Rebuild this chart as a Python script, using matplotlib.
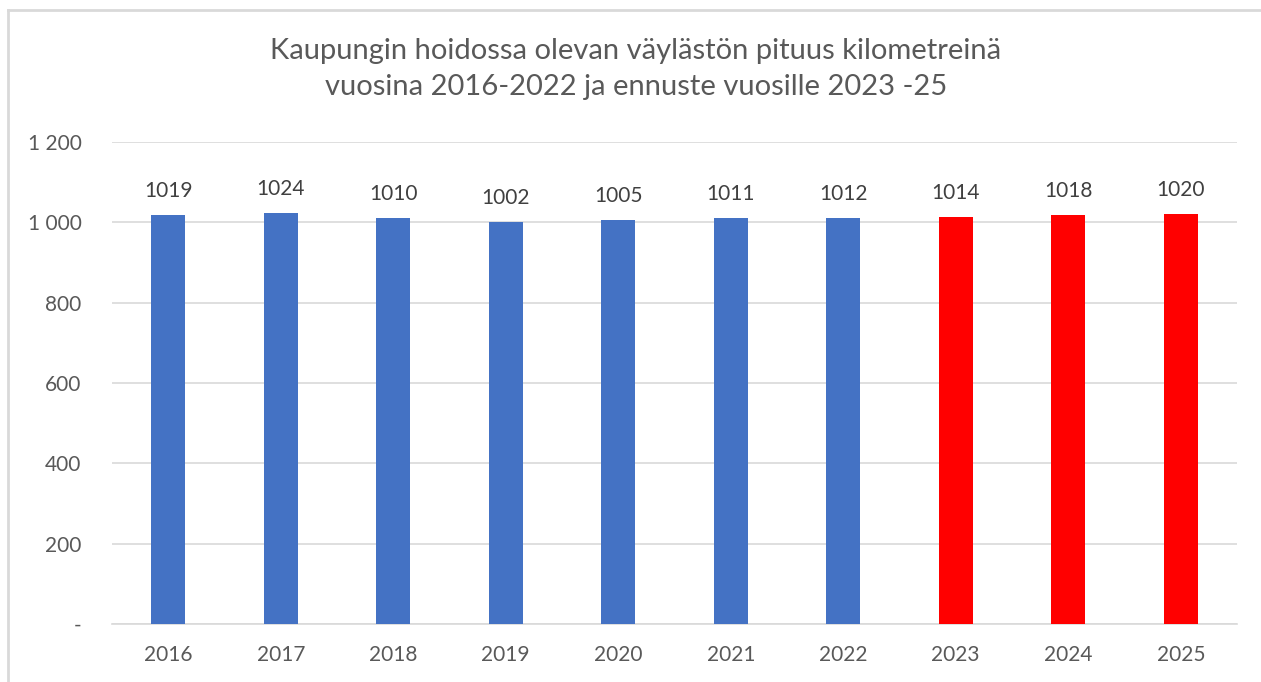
import matplotlib.pyplot as plt
from matplotlib.lines import Line2D
from matplotlib.ticker import FuncFormatter

plt.rcParams['font.family'] = ['Lato', 'DejaVu Sans']

vuodet = ['2016', '2017', '2018', '2019', '2020', '2021', '2022', '2023', '2024', '2025']
pituus = [1019, 1024, 1010, 1002, 1005, 1011, 1012, 1014, 1018, 1020]
ennuste = [False] * 7 + [True] * 3

sininen = '#4472C4'
punainen = '#FF0000'
harmaa = '#595959'
varit = [punainen if e else sininen for e in ennuste]

fig = plt.figure(figsize=(12.61, 6.82), dpi=100)
ax = fig.add_axes([112 / 1261, 1 - 624 / 682, 1125 / 1261, (624 - 142) / 682])

x = range(len(vuodet))
palkit = ax.bar(x, pituus, width=0.30, color=varit, zorder=3)
ax.bar_label(palkit, labels=[str(v) for v in pituus], padding=10,
             fontsize=15, color='#404040')

ax.set_xlim(-0.5, len(vuodet) - 0.5)
ax.set_ylim(0, 1200)
ax.set_yticks(range(0, 1201, 200))
ax.yaxis.set_major_formatter(FuncFormatter(
    lambda v, p: '-' if v == 0 else f'{int(v):,}'.replace(',', ' ')))
ax.set_xticks(list(x))
ax.set_xticklabels(vuodet)
ax.tick_params(axis='both', length=0, labelsize=15, labelcolor=harmaa)
ax.tick_params(axis='x', pad=15)
ax.tick_params(axis='y', pad=22)
ax.grid(axis='y', color='#D9D9D9', linewidth=1.2, zorder=0)
for s in ['top', 'right', 'left']:
    ax.spines[s].set_visible(False)
ax.spines['bottom'].set_color('#D9D9D9')
ax.spines['bottom'].set_linewidth(1.2)

fig.text(636 / 1261, 1 - 69 / 682,
         'Kaupungin hoidossa olevan väylästön pituus kilometreinä\n'
         'vuosina 2016-2022 ja ennuste vuosille 2023 -25',
         ha='center', va='center', fontsize=21, color=harmaa, linespacing=1.45)

# kaavion reunaviiva ylhäällä ja vasemmalla
fig.add_artist(Line2D([8 / 1261, 1], [1 - 10 / 682] * 2, color='#D9D9D9', lw=2))
fig.add_artist(Line2D([8 / 1261] * 2, [0, 1 - 10 / 682], color='#D9D9D9', lw=2))

fig.savefig('out.png', dpi=100)
